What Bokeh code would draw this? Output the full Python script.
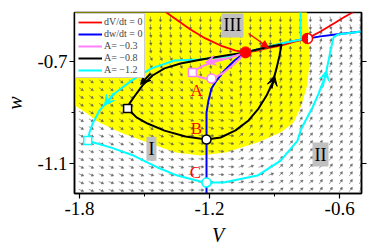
import numpy as np
from bokeh.plotting import figure
from bokeh.models import (Range1d, LinearAxis, FixedTicker, Label, Arrow, VeeHead,
                          NormalHead, Legend, LegendItem, CustomJSTickFormatter)
from bokeh.embed import file_html
from bokeh.resources import INLINE

# ---------------- data ----------------
x_major = [-1.8, -1.2, -0.6]
x_minor = [-1.5, -0.9]
y_major = [-1.1, -0.7]
y_minor = [-0.9]

# dV/dt = 0 nullcline (red)
red_V = [-1.43, -1.399, -1.334, -1.288, -1.219, -1.149, -1.080, -1.034, -0.990, -0.942,
         -0.872, -0.803, -0.748, -0.688, -0.619, -0.582, -0.541, -0.53]
red_w = [-0.49, -0.506, -0.545, -0.573, -0.608, -0.636, -0.656, -0.662, -0.658, -0.648,
         -0.636, -0.620, -0.608, -0.581, -0.545, -0.526, -0.506, -0.49]

# dw/dt = 0 nullcline (blue)
blue_V = [-1.214, -1.214, -1.205, -1.191, -1.168, -1.131, -1.085, -1.034, -0.942,
          -0.872, -0.803, -0.748, -0.688, -0.619, -0.499]
blue_w = [-1.23, -0.900, -0.852, -0.805, -0.774, -0.734, -0.695, -0.663, -0.644,
          -0.630, -0.617, -0.608, -0.600, -0.593, -0.581]

# trajectory A = -0.3 (pink)
pink_V = [-1.034, -1.103, -1.172, -1.228, -1.269, -1.279, -1.255, -1.219, -1.191,
          -1.140, -1.089, -1.052, -1.034]
pink_w = [-0.663, -0.683, -0.699, -0.715, -0.734, -0.742, -0.758, -0.766, -0.766,
          -0.746, -0.711, -0.679, -0.663]

# trajectory A = -0.8 (black)
black_V = [-1.034, -1.126, -1.237, -1.334, -1.408, -1.463, -1.509, -1.537, -1.569,
           -1.578, -1.537, -1.486, -1.408, -1.311, -1.214, -1.149, -1.080, -1.020,
           -0.974, -0.937, -0.909, -0.891, -0.877, -0.868, -0.942, -1.034]
black_w = [-0.663, -0.675, -0.691, -0.707, -0.726, -0.754, -0.793, -0.825, -0.864,
           -0.884, -0.919, -0.943, -0.971, -0.994, -1.006, -0.998, -0.970, -0.931,
           -0.884, -0.833, -0.782, -0.726, -0.675, -0.632, -0.644, -0.663]

# trajectory A = -1.2 (cyan)
cyan_V = [-0.780, -0.780, -0.776, -0.849, -0.942, -1.034, -1.126, -1.242, -1.362,
          -1.468, -1.560, -1.638, -1.675, -1.708, -1.740, -1.754, -1.762, -1.735,
          -1.657, -1.551, -1.440, -1.348, -1.242, -1.214, -1.135, -0.979, -0.872,
          -0.794, -0.780, -0.757, -0.725, -0.697, -0.665, -0.642, -0.628, -0.609, -0.499]
cyan_w = [-0.50, -0.577, -0.612, -0.624, -0.644, -0.663, -0.679, -0.691, -0.695,
          -0.726, -0.774, -0.825, -0.860, -0.892, -0.944, -0.979, -1.010, -1.018,
          -1.037, -1.069, -1.116, -1.148, -1.171, -1.175, -1.175, -1.148, -1.089,
          -1.010, -0.970, -0.931, -0.880, -0.825, -0.754, -0.656, -0.604, -0.593, -0.581]

# yellow region outline
yel_V = [-1.83, -0.752, -0.740, -0.737, -0.750, -0.776, -0.812, -0.872, -0.979,
         -1.126, -1.242, -1.357, -1.486, -1.611, -1.717, -1.772, -1.83]
yel_w = [-0.50, -0.50, -0.596, -0.695, -0.793, -0.872, -0.939, -0.978, -1.018,
         -1.057, -1.069, -1.057, -1.018, -0.978, -0.935, -0.900, -0.868]

# equilibria and start/end markers
stable_V, stable_w = [-1.034], [-0.663]
half_V, half_w = [-0.748], [-0.608]
sq_V = [-1.279, -1.578, -1.762]
sq_w = [-0.742, -0.884, -1.010]
sq_col = ["#ff80ff", "#000000", "#00ffff"]
ci_V = [-1.191, -1.214, -1.214]
ci_w = [-0.766, -1.006, -1.175]
ci_col = ["#ff80ff", "#000000", "#00ffff"]

# direction arrows on trajectories (start V, start w, end V, end w, colour)
traj_arrows = [
    (-1.472, -0.746, -1.518, -0.789, "#000000"),
    (-0.914, -0.805, -0.900, -0.754, "#000000"),
    (-1.643, -0.825, -1.685, -0.872, "#00ffff"),
    (-0.679, -0.801, -0.660, -0.734, "#00ffff"),
    (-1.140, -0.687, -1.219, -0.703, "#ff80ff"),
]

# coarse direction table of the vector field (degrees)
field_V = [-1.8, -1.6, -1.4, -1.2, -1.0, -0.8, -0.6]
field_w = [-0.53, -0.62, -0.72, -0.82, -0.92, -1.02, -1.12, -1.20]
field_angle = [
    [-60, -75, -90, -90, -90, -90, -75],
    [-50, -60, -80, -90, -90, 90, 70],
    [-40, -45, -60, -80, 90, 80, 65],
    [-35, -40, -45, -50, 80, 70, 60],
    [-30, -35, -35, -20, 60, 60, 55],
    [-25, -30, -25, -10, 40, 50, 55],
    [-25, -25, -20, -5, 20, 45, 55],
    [-25, -20, -15, 0, 15, 40, 55],
]

# ---------------- figure ----------------
XR = (-1.823, -0.499)
YR = (-1.2185, -0.506)
FW, FH = 287, 181

p = figure(frame_width=FW, frame_height=FH, output_backend="svg", toolbar_location=None,
           x_range=Range1d(*XR), y_range=Range1d(*YR),
           min_border_left=74, min_border_top=12, min_border_bottom=55, min_border_right=15)
p.background_fill_color = "white"
p.border_fill_color = "white"
p.outline_line_color = "black"
p.outline_line_width = 1.5
p.xgrid.visible = False
p.ygrid.visible = False

FONT = "Liberation Serif"

def style_axis(ax, ticks, minor):
    ax.ticker = FixedTicker(ticks=ticks, minor_ticks=minor)
    ax.major_tick_out = 5
    ax.major_tick_in = 0
    ax.minor_tick_out = 3
    ax.minor_tick_in = 0
    ax.axis_line_color = "black"
    ax.axis_line_width = 1.5
    ax.major_tick_line_width = 1.2
    ax.major_label_text_font = FONT
    ax.major_label_text_font_size = "19px"
    ax.major_label_text_color = "black"
    ax.axis_label_text_font = FONT
    ax.axis_label_text_font_style = "italic"
    ax.axis_label_text_font_size = "20px"
    ax.axis_label_text_color = "black"

xa = p.xaxis[0]
style_axis(xa, x_major, x_minor)
xa.formatter = CustomJSTickFormatter(code="return tick.toFixed(1);")
xa.axis_label = "V"
xa.major_label_standoff = 3
xa.axis_label_standoff = 6

ya = p.yaxis[0]
style_axis(ya, y_major, y_minor)
ya.formatter = CustomJSTickFormatter(code="return tick.toFixed(1);")
ya.axis_label = "w"
ya.major_label_standoff = 2
ya.axis_label_standoff = 8

ra = LinearAxis()
style_axis(ra, y_major, y_minor)
ra.formatter = CustomJSTickFormatter(code="return '';")
p.add_layout(ra, "right")

# yellow region
p.patch(yel_V, yel_w, fill_color="#ffff00", line_color=None)

# vector field arrows
gx = np.arange(-1.795, -0.50, 0.0461)
gy = np.arange(-1.205, -0.51, 0.0307)
GX, GY = np.meshgrid(gx, gy)
GX = GX.ravel(); GY = GY.ravel()
fv = np.array(field_V); fw = np.array(field_w); fa = np.array(field_angle, dtype=float)
iv = np.abs(GX[:, None] - fv[None, :]).argmin(1)
iw = np.abs(GY[:, None] - fw[None, :]).argmin(1)
th = np.deg2rad(fa[iw, iv])
sx = FW / (XR[1] - XR[0])
sy = FH / (YR[1] - YR[0])
L = 4.0
dx = L * np.cos(th) / sx / 2
dy = L * np.sin(th) / sy / 2
p.segment(GX - dx, GY - dy, GX + dx, GY + dy, line_color="#555555", line_width=0.7, line_alpha=0.8)
p.scatter(GX + dx, GY + dy, marker="triangle", size=2.8, angle=th - np.pi / 2,
          fill_color="#555555", line_color="#555555", line_width=0.4, fill_alpha=0.8, line_alpha=0.8)

# nullclines and trajectories
r_blue = p.line(blue_V, blue_w, line_color="#0000ff", line_width=2)
r_red = p.line(red_V, red_w, line_color="#ff0000", line_width=1.8)
r_cyan = p.line(cyan_V, cyan_w, line_color="#00ffff", line_width=2)
r_black = p.line(black_V, black_w, line_color="#000000", line_width=2)
r_pink = p.line(pink_V, pink_w, line_color="#ff80ff", line_width=2)

for x0, y0, x1, y1, c in traj_arrows:
    p.add_layout(Arrow(end=VeeHead(size=10, fill_color=c, line_color=c),
                       x_start=x0, y_start=y0, x_end=x1, y_end=y1,
                       line_color=c, line_width=2))

# pointer from region III
p.add_layout(Arrow(end=NormalHead(size=7, fill_color="#ff0000", line_color="#ff0000"),
                   x_start=-1.02, y_start=-0.589, x_end=-0.928, y_end=-0.644,
                   line_color="#ff0000", line_width=1.3))

# markers
p.scatter(sq_V, sq_w, marker="square", size=8, fill_color="white", line_color=sq_col, line_width=1.5)
p.scatter(ci_V, ci_w, marker="circle", size=9, fill_color="white", line_color=ci_col, line_width=1.5)
p.scatter(stable_V, stable_w, marker="circle", size=11, fill_color="#ff0000", line_color="#ff0000")
p.scatter(half_V, half_w, marker="circle", size=10, fill_color="white", line_color="#ff0000", line_width=1.5)
p.wedge(half_V, half_w, radius=5, radius_units="screen", start_angle=np.pi / 2,
        end_angle=3 * np.pi / 2, fill_color="#ff0000", line_color="#ff0000")

# region labels
for txt, x, y in [("III", -1.094, -0.557), ("I", -1.468, -1.042), ("II", -0.688, -1.065)]:
    p.add_layout(Label(x=x, y=y, text=txt, text_font=FONT, text_font_size="18px",
                       text_align="center", text_baseline="middle", text_color="black",
                       background_fill_color="#c0c0c0", padding=2))
for txt, x, y in [("A", -1.26, -0.813), ("B", -1.26, -0.963), ("C", -1.265, -1.136)]:
    p.add_layout(Label(x=x, y=y, text=txt, text_font=FONT, text_font_size="17px",
                       text_align="center", text_baseline="middle", text_color="#ff0000"))

legend = Legend(items=[
    LegendItem(label="dV/dt = 0", renderers=[r_red]),
    LegendItem(label="dw/dt = 0", renderers=[r_blue]),
    LegendItem(label="A= \u22120.3", renderers=[r_pink]),
    LegendItem(label="A= \u22120.8", renderers=[r_black]),
    LegendItem(label="A= \u22121.2", renderers=[r_cyan]),
], location="top_left")
legend.margin = 1
legend.padding = 2
legend.spacing = 1
legend.label_height = 10
legend.glyph_height = 10
legend.glyph_width = 24
legend.label_standoff = 2
legend.label_text_font = FONT
legend.label_text_font_size = "10px"
legend.border_line_color = "#999999"
legend.border_line_width = 1
legend.background_fill_alpha = 1
p.add_layout(legend)

open("out.html", "w").write(file_html(p, INLINE))
